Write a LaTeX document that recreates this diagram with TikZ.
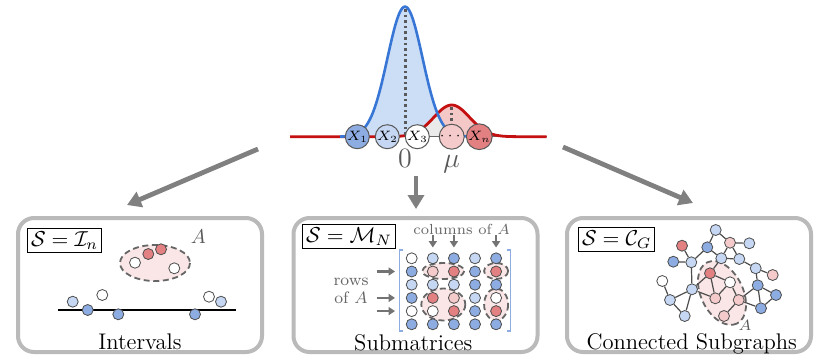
\RequirePackage{fix-cm}
\documentclass[tikz,border=0pt]{standalone}
\usepackage{amsmath,amssymb}
\usepackage{tikz}
\usetikzlibrary{arrows.meta}
\definecolor{bluemid}{RGB}{140,172,226}
\definecolor{bluelt}{RGB}{197,215,243}
\definecolor{redmid}{RGB}{226,128,130}
\definecolor{redlt}{RGB}{245,202,202}
\definecolor{blobfill}{RGB}{250,230,230}
\definecolor{curveblue}{RGB}{56,118,214}
\definecolor{fillblue}{RGB}{204,222,246}
\definecolor{curvered}{RGB}{196,16,16}
\definecolor{fillred}{RGB}{245,200,200}
\definecolor{overlap}{RGB}{234,234,234}

\begin{document}
\begin{tikzpicture}[x=0.5pt, y=-0.5pt,
	panel/.style={draw=black!27, line width=2pt, rounded corners=8pt, minimum width=122pt, minimum height=67pt},
	setlbl/.style={draw, line width=0.5pt, inner sep=1.6pt, font=\fontsize{10.8}{12}\selectfont},
	ptitle/.style={anchor=base, font=\fontsize{11.3}{13}\selectfont},
	obs/.style={circle, draw=black!65, line width=0.5pt, inner sep=0pt, minimum size=7.5pt, font=\fontsize{6.8}{7}\selectfont},
	bead/.style={circle, draw=black!70, line width=0.4pt, inner sep=0pt, minimum size=5.5pt},
	blob/.style={draw=black!60, fill=blobfill, line width=0.9pt, dash pattern=on 3pt off 1.8pt},
	edge/.style={black!70, line width=0.6pt},
	dotline/.style={black!65, line width=1.5pt, dash pattern=on 1.3pt off 1.5pt},
	bigarr/.style={-{Triangle[length=7pt, width=8pt]}, line width=2.4pt, black!50},
	smallarr/.style={-{Triangle[length=3.2pt, width=4pt]}, line width=1.2pt, black!55},
	note/.style={text=black!60, font=\fontsize{7.3}{8}\selectfont}]
	\useasboundingbox (0,0) rectangle (830,360);
	\fill[fillblue] plot[domain=330:480, samples=140] (\x,{136.7-130*exp(-0.5*((\x-405)/17.5)^2)}) -- cycle;
	\fill[fillred] plot[domain=390:520, samples=120] (\x,{136.7-31.7*exp(-0.5*((\x-451.7)/18)^2)}) -- cycle;
	\fill[overlap] plot[domain=395:490, samples=110] (\x,{136.7-min(130*exp(-0.5*((\x-405)/17.5)^2),31.7*exp(-0.5*((\x-451.7)/18)^2))}) -- cycle;
	\draw[black!60, line width=0.6pt] (290,136.7) -- (546.7,136.7);
	\draw[curvered, line width=1.4pt] plot[domain=290:546.7, samples=160] (\x,{136.7-31.7*exp(-0.5*((\x-451.7)/18)^2)});
	\draw[curveblue, line width=1.3pt] plot[domain=340:475, samples=150] (\x,{136.7-130*exp(-0.5*((\x-405)/17.5)^2)});
	\draw[dotline] (405,9) -- (405,136.7);
	\draw[dotline] (451.7,107) -- (451.7,136.7);
	\node[obs, fill=bluemid] (x1) at (357.3,136.7) {$X_1$};
	\node[obs, fill=bluelt] (x2) at (387.3,136.7) {$X_2$};
	\node[obs, fill=white] (x3) at (417.3,136.7) {$X_3$};
	\node[obs, fill=redlt] (xd) at (451.7,136.7) {$\cdots$};
	\node[obs, fill=redmid] (xn) at (479.3,136.7) {$X_n$};
	\node[anchor=base, text=black!65, font=\fontsize{14}{16}\selectfont] (zero) at (405,167) {$0$};
	\node[anchor=base, text=black!65, font=\fontsize{14}{16}\selectfont] (mu) at (451.7,167) {$\mu$};
	\coordinate (aL0) at (258,149);
	\coordinate (aL1) at (127,205);
	\coordinate (aM0) at (416,176);
	\coordinate (aM1) at (416,209);
	\coordinate (aR0) at (563,147);
	\coordinate (aR1) at (693,203);
	\draw[bigarr] (aL0) -- (aL1);
	\draw[bigarr] (aM0) -- (aM1);
	\draw[bigarr] (aR0) -- (aR1);
	\node[panel] (pI) at (140,285) {};
	\node[panel] (pM) at (415.5,285) {};
	\node[panel] (pC) at (689,285) {};
	\node[setlbl] (sI) at (64.5,240.5) {$\mathcal{S}=\mathcal{I}_n$};
	\node[setlbl] (sM) at (349,236.7) {$\mathcal{S}=\mathcal{M}_N$};
	\node[setlbl] (sC) at (616.7,239.7) {$\mathcal{S}=\mathcal{C}_G$};
	\node[ptitle] (tI) at (140,349) {Intervals};
	\node[ptitle] (tM) at (413.3,350) {Submatrices};
	\node[ptitle] (tC) at (691.7,349) {Connected Subgraphs};
	\draw[blob] (155,263) ellipse [x radius=35, y radius=18];
	\node[bead, fill=white] (a1) at (135,262.7) {};
	\node[bead, fill=redmid] (a2) at (148.3,254) {};
	\node[bead, fill=redmid] (a3) at (161,249.3) {};
	\node[bead, fill=white] (a4) at (174.3,268.3) {};
	\node[text=black!65, font=\fontsize{10}{11}\selectfont] (lblAI) at (198.3,237) {$A$};
	\draw[line width=0.7pt] (58.3,310) -- (236,310);
	\node[bead, fill=bluelt] (iv1) at (72.7,301.7) {};
	\node[bead, fill=bluemid] (iv2) at (87.7,310) {};
	\node[bead, fill=white] (iv3) at (102.3,295) {};
	\node[bead, fill=bluemid] (iv4) at (118.3,314.3) {};
	\node[bead, fill=bluemid] (iv5) at (195,314.3) {};
	\node[bead, fill=white] (iv6) at (209,296.7) {};
	\node[bead, fill=bluelt] (iv7) at (221,301.7) {};
	\draw[blob] (443.3,271) ellipse [x radius=21, y radius=8];
	\draw[blob] (496.1,271) ellipse [x radius=12, y radius=8];
	\draw[blob] (443.3,304.5) ellipse [x radius=22, y radius=16];
	\draw[blob] (496.1,304.5) ellipse [x radius=12, y radius=16];
	\node[bead, fill=white] (m11) at (411.7,258.3) {};
	\node[bead, fill=bluelt] (m12) at (432.8,258.3) {};
	\node[bead, fill=bluemid] (m13) at (453.9,258.3) {};
	\node[bead, fill=bluelt] (m14) at (475,258.3) {};
	\node[bead, fill=bluemid] (m15) at (496.1,258.3) {};
	\node[bead, fill=bluemid] (m21) at (411.7,271.5) {};
	\node[bead, fill=redlt] (m22) at (432.8,271.5) {};
	\node[bead, fill=redmid] (m23) at (453.9,271.5) {};
	\node[bead, fill=bluemid] (m24) at (475,271.5) {};
	\node[bead, fill=redmid] (m25) at (496.1,271.5) {};
	\node[bead, fill=bluelt] (m31) at (411.7,284.7) {};
	\node[bead, fill=bluelt] (m32) at (432.8,284.7) {};
	\node[bead, fill=bluelt] (m33) at (453.9,284.7) {};
	\node[bead, fill=bluemid] (m34) at (475,284.7) {};
	\node[bead, fill=bluemid] (m35) at (496.1,284.7) {};
	\node[bead, fill=bluemid] (m41) at (411.7,297.9) {};
	\node[bead, fill=redmid] (m42) at (432.8,297.9) {};
	\node[bead, fill=redlt] (m43) at (453.9,297.9) {};
	\node[bead, fill=bluelt] (m44) at (475,297.9) {};
	\node[bead, fill=white] (m45) at (496.1,297.9) {};
	\node[bead, fill=white] (m51) at (411.7,311.1) {};
	\node[bead, fill=white] (m52) at (432.8,311.1) {};
	\node[bead, fill=redmid] (m53) at (453.9,311.1) {};
	\node[bead, fill=bluemid] (m54) at (475,311.1) {};
	\node[bead, fill=redmid] (m55) at (496.1,311.1) {};
	\node[bead, fill=bluemid] (m61) at (411.7,324.3) {};
	\node[bead, fill=bluemid] (m62) at (432.8,324.3) {};
	\node[bead, fill=bluemid] (m63) at (453.9,324.3) {};
	\node[bead, fill=bluemid] (m64) at (475,324.3) {};
	\node[bead, fill=bluemid] (m65) at (496.1,324.3) {};
	\draw[bluemid, line width=0.6pt] (403,250) -- (399.3,250) -- (399.3,331) -- (403,331);
	\draw[bluemid, line width=0.6pt] (507,250) -- (510.7,250) -- (510.7,331) -- (507,331);
	\node[note] (colsA) at (461.7,229.3) {columns of $A$};
	\coordinate (c2a) at (432.8,235);
	\coordinate (c2b) at (432.8,247.5);
	\coordinate (c3a) at (453.9,235);
	\coordinate (c3b) at (453.9,247.5);
	\coordinate (c5a) at (496.1,235);
	\coordinate (c5b) at (496.1,247.5);
	\draw[smallarr] (c2a) -- (c2b);
	\draw[smallarr] (c3a) -- (c3b);
	\draw[smallarr] (c5a) -- (c5b);
	\node[note, align=center, font=\fontsize{8.3}{9}\selectfont] (rowsA) at (351,291) {rows\\of $A$};
	\coordinate (r2a) at (376.7,271.5);
	\coordinate (r2b) at (395,271.5);
	\coordinate (r4a) at (376.7,297.9);
	\coordinate (r4b) at (395,297.9);
	\coordinate (r5a) at (376.7,311.1);
	\coordinate (r5b) at (395,311.1);
	\draw[smallarr] (r2a) -- (r2b);
	\draw[smallarr] (r4a) -- (r4b);
	\draw[smallarr] (r5a) -- (r5b);
	\draw[blob, rotate around={-64:(722,293)}] (722,293) ellipse [x radius=34, y radius=21];
	\node[bead, fill=bluelt] (g1) at (715.7,230) {};
	\node[bead, fill=redlt] (g2) at (730,242.7) {};
	\node[bead, fill=bluelt] (g3) at (749.3,243.3) {};
	\node[bead, fill=redmid] (g4) at (682,245.7) {};
	\node[bead, fill=bluemid] (g5) at (707.3,247.3) {};
	\node[bead, fill=bluemid] (g6) at (673.3,261.7) {};
	\node[bead, fill=bluelt] (g7) at (691.3,262.3) {};
	\node[bead, fill=bluelt] (g8) at (721.3,258.3) {};
	\node[bead, fill=bluelt] (g9) at (739.3,259) {};
	\node[bead, fill=bluelt] (g10) at (755.7,268.3) {};
	\node[bead, fill=redlt] (g11) at (772.7,275) {};
	\node[bead, fill=redmid] (g12) at (710,273.3) {};
	\node[bead, fill=white] (g13) at (730,282.3) {};
	\node[bead, fill=white] (g14) at (662.3,281) {};
	\node[bead, fill=bluelt] (g15) at (692,289.3) {};
	\node[bead, fill=bluemid] (g16) at (757.7,285.3) {};
	\node[bead, fill=bluemid] (g17) at (776,295) {};
	\node[bead, fill=bluelt] (g18) at (670,300) {};
	\node[bead, fill=redlt] (g19) at (715.3,298.3) {};
	\node[bead, fill=redlt] (g20) at (738.7,300) {};
	\node[bead, fill=bluemid] (g21) at (761,308.3) {};
	\node[bead, fill=bluelt] (g22) at (684.7,316) {};
	\node[bead, fill=redlt] (g23) at (724,316) {};
	\draw[edge] (g1) -- (g2);
	\draw[edge] (g1) -- (g5);
	\draw[edge] (g2) -- (g3);
	\draw[edge] (g2) -- (g8);
	\draw[edge] (g2) -- (g9);
	\draw[edge] (g8) -- (g9);
	\draw[edge] (g5) -- (g8);
	\draw[edge] (g5) -- (g7);
	\draw[edge] (g4) -- (g7);
	\draw[edge] (g6) -- (g7);
	\draw[edge] (g7) -- (g15);
	\draw[edge] (g8) -- (g12);
	\draw[edge] (g9) -- (g10);
	\draw[edge] (g10) -- (g11);
	\draw[edge] (g10) -- (g16);
	\draw[edge] (g16) -- (g17);
	\draw[edge] (g16) -- (g21);
	\draw[edge] (g17) -- (g21);
	\draw[edge] (g16) -- (g20);
	\draw[edge] (g20) -- (g21);
	\draw[edge] (g12) -- (g13);
	\draw[edge] (g12) -- (g19);
	\draw[edge] (g13) -- (g19);
	\draw[edge] (g13) -- (g20);
	\draw[edge] (g20) -- (g23);
	\draw[edge] (g12) -- (g15);
	\draw[edge] (g15) -- (g19);
	\draw[edge] (g14) -- (g18);
	\draw[edge] (g18) -- (g15);
	\draw[edge] (g18) -- (g22);
	\draw[edge] (g15) -- (g22);
	\node[text=black!65, font=\fontsize{7.5}{8}\selectfont] (lblAC) at (745,325) {$A$};
\end{tikzpicture}
\end{document}
